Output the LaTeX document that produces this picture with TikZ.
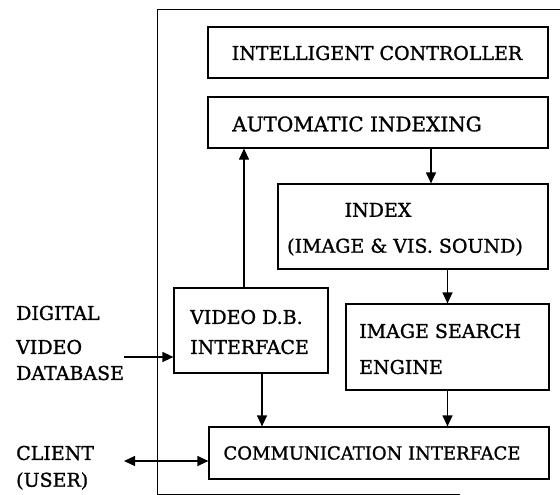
\documentclass[tikz,border=0pt]{standalone}
\usepackage{fontspec}
\setmainfont{DejaVu Serif}[BoldFont={DejaVu Serif},BoldFeatures={FakeBold=1.2}]
\usetikzlibrary{arrows.meta}
\begin{document}
\begin{tikzpicture}[x=1pt,y=-1pt,
  box/.style={draw,line width=1.2pt,inner sep=0pt},
  txt/.style={inner sep=0pt,font=\fontsize{19}{22}\selectfont\bfseries},
  arr/.style={line width=1.2pt,-{Triangle[length=11pt,width=10pt]}},
  frame/.style={line width=0.9pt}]
\useasboundingbox (0,0) rectangle (560,495);
% outer frame
\coordinate (ftr) at (560,9);
\coordinate (ftl) at (157,9);
\coordinate (fbl) at (157,494);
\coordinate (fbr) at (460,494);
\draw[frame] (ftr) -- (ftl) -- (fbl) -- (fbr);
% boxes
\node[box,minimum width=340pt,minimum height=51pt] (ic) at (378,52.5) {};
\node[box,minimum width=340pt,minimum height=51pt] (ai) at (378,122.5) {};
\node[box,minimum width=270pt,minimum height=85pt] (idx) at (413,226.5) {};
\node[box,minimum width=154pt,minimum height=85pt] (vdb) at (251,330.5) {};
\node[box,minimum width=203pt,minimum height=86pt] (ise) at (447.5,347) {};
\node[box,minimum width=340pt,minimum height=52pt] (ci) at (379,453) {};
% texts
\node[txt] (tic) at (377,53) {INTELLIGENT CONTROLLER};
\node[txt,font=\fontsize{20}{22}\selectfont\bfseries] (tai) at (357,124) {AUTOMATIC INDEXING};
\node[txt] (tidx1) at (378,210) {INDEX};
\node[txt] (tidx2) at (405,247) {(IMAGE \& VIS. SOUND)};
\node[txt,anchor=west] (tvdb1) at (190,317) {VIDEO D.B.};
\node[txt,anchor=west] (tvdb2) at (190,347) {INTERFACE};
\node[txt,anchor=west] (tise1) at (359,331) {IMAGE SEARCH};
\node[txt,anchor=west] (tise2) at (359,367) {ENGINE};
\node[txt,font=\fontsize{18}{22}\selectfont\bfseries] (tci) at (372,453) {COMMUNICATION INTERFACE};
\node[txt,anchor=west] (l1) at (16,313) {DIGITAL};
\node[txt,anchor=west] (l2) at (16,347) {VIDEO};
\node[txt,anchor=west] (l3) at (16,373) {DATABASE};
\node[txt,anchor=west] (l4) at (16,453) {CLIENT};
\node[txt,anchor=west] (l5) at (16,481) {(USER)};
% connectors
\draw[arr] ([xshift=18pt]idx.north |- ai.south) -- ([xshift=18pt]idx.north);
\draw[arr] ([xshift=-7pt]vdb.north) -- ([xshift=-7pt]vdb.north |- ai.south);
\draw[arr] (ise.north |- idx.south) -- (ise.north);
\draw[arr] ([xshift=11pt]vdb.south) -- ([xshift=11pt]vdb.south |- ci.north);
\draw[arr] (ise.south) -- (ise.south |- ci.north);
\coordinate (din) at (124,357);
\draw[arr] (din) -- (vdb.west |- din);
\coordinate (cl) at (124,461);
\draw[line width=1.2pt,{Triangle[length=11pt,width=10pt]}-{Triangle[length=11pt,width=10pt]}] (cl) -- (ci.west |- cl);
\end{tikzpicture}
\end{document}
